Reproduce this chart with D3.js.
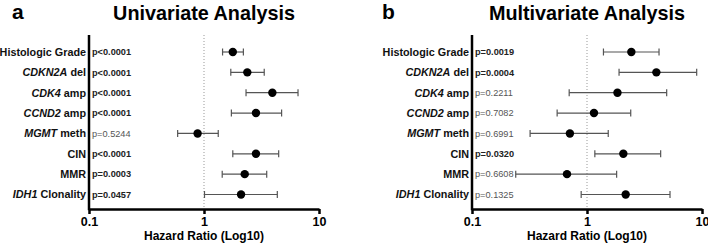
<!DOCTYPE html>
<html><head><meta charset="utf-8">
<script src="https://cdn.jsdelivr.net/npm/d3@7"></script>
<style>
html,body{margin:0;padding:0;background:#fff;}
svg{display:block;font-family:"Liberation Sans",Arial,Helvetica,sans-serif;}
</style></head>
<body>
<script>
// ---------- data ----------
const labelGene   = ["", "CDKN2A", "CDK4", "CCND2", "MGMT", "", "", "IDH1"];
const labelSuffix = ["Histologic Grade", " del", " amp", " amp", " meth", "CIN", "MMR", " Clonality"];

const uniHR   = [1.78, 2.38, 3.93, 2.83, 0.88, 2.83, 2.26, 2.10];
const uniLow  = [1.45, 1.71, 2.32, 1.73, 0.59, 1.78, 1.44, 1.01];
const uniHigh = [2.20, 3.34, 6.57, 4.73, 1.33, 4.46, 3.51, 4.34];
const uniP    = ["p<0.0001", "p<0.0001", "p<0.0001", "p<0.0001", "p=0.5244", "p<0.0001", "p=0.0003", "p=0.0457"];

const mulHR   = [2.43, 4.01, 1.84, 1.15, 0.71, 2.07, 0.67, 2.17];
const mulLow  = [1.39, 1.90, 0.70, 0.55, 0.32, 1.17, 0.24, 0.89];
const mulHigh = [4.23, 8.99, 4.93, 2.40, 1.53, 4.37, 1.81, 5.27];
const mulP    = ["p=0.0019", "p=0.0004", "p=0.2211", "p=0.7082", "p=0.6991", "p=0.0320", "p=0.6608", "p=0.1325"];

const xTicks = [0.1, 1, 10];
const xTickLabels = ["0.1", "1", "10"];

// ---------- drawing ----------
const W = 708, H = 248;
const svg = d3.select("body").append("svg").attr("width", W).attr("height", H);

function panel(cfg) {
  const g = svg.append("g");
  const x = d3.scaleLog().domain([0.1, 10]).range([cfg.x0, cfg.x0 + 230]);
  const idx = d3.range(labelSuffix.length);
  const y = d3.scalePoint().domain(idx).range([52, 194.5]);
  const yTop = 35, yBot = 209;

  // panel letter & title
  g.append("text").attr("x", cfg.letterX).attr("y", 19)
    .attr("font-size", 21).attr("font-weight", "bold").text(cfg.letter);
  g.append("text").attr("x", x(1)).attr("y", 19.5).attr("text-anchor", "middle")
    .attr("font-size", 19.8).attr("font-weight", "bold").text(cfg.title);

  // reference line at HR = 1
  g.append("line").attr("x1", x(1)).attr("x2", x(1)).attr("y1", yTop).attr("y2", yBot)
    .attr("stroke", "#999").attr("stroke-width", 1).attr("stroke-dasharray", "1,2");

  // x axis
  const ax = d3.axisBottom(x).tickValues(xTicks)
    .tickFormat((d, i) => xTickLabels[i]).tickSize(5).tickSizeOuter(0);
  const axg = g.append("g").attr("transform", `translate(0,${yBot})`).call(ax);
  axg.select(".domain").attr("stroke", "#000").attr("stroke-width", 2.5);
  axg.selectAll(".tick line").attr("stroke", "#000").attr("stroke-width", 2.5);
  axg.selectAll(".tick text").attr("font-size", 12.5).attr("font-weight", "bold")
    .attr("fill", "#000").attr("font-family", "Liberation Sans, Arial, sans-serif");

  // y axis line
  g.append("line").attr("x1", cfg.x0).attr("x2", cfg.x0).attr("y1", yTop).attr("y2", yBot + 1.25)
    .attr("stroke", "#000").attr("stroke-width", 2.5);

  // axis title
  g.append("text").attr("x", (x(0.1) + x(10)) / 2).attr("y", 240).attr("text-anchor", "middle")
    .attr("font-size", 12).attr("font-weight", "bold").text("Hazard Ratio (Log10)");

  // row labels
  idx.forEach(i => {
    const t = g.append("text").attr("x", cfg.x0 - 3).attr("y", y(i)).attr("dy", "0.36em")
      .attr("text-anchor", "end").attr("font-size", 10.8).attr("font-weight", "bold").attr("fill", "#111");
    if (labelGene[i]) t.append("tspan").attr("font-style", "italic").text(labelGene[i]);
    t.append("tspan").text(labelSuffix[i]);

    const pv = cfg.p[i];
    const num = parseFloat(pv.slice(2));
    const sig = num < 0.05;
    g.append("text").attr("x", cfg.x0 + 3).attr("y", y(i)).attr("dy", "0.36em")
      .attr("font-size", 9.2).attr("font-weight", sig ? "bold" : "normal")
      .attr("fill", sig ? "#222" : "#555").text(pv);
  });

  // error bars
  const rows = g.selectAll(".row").data(idx).enter().append("g");
  rows.append("line").attr("x1", i => x(cfg.lo[i])).attr("x2", i => x(cfg.hi[i]))
    .attr("y1", i => y(i)).attr("y2", i => y(i)).attr("stroke", "#555").attr("stroke-width", 1.2);
  rows.append("line").attr("x1", i => x(cfg.lo[i])).attr("x2", i => x(cfg.lo[i]))
    .attr("y1", i => y(i) - 3.5).attr("y2", i => y(i) + 3.5).attr("stroke", "#555").attr("stroke-width", 1.2);
  rows.append("line").attr("x1", i => x(cfg.hi[i])).attr("x2", i => x(cfg.hi[i]))
    .attr("y1", i => y(i) - 3.5).attr("y2", i => y(i) + 3.5).attr("stroke", "#555").attr("stroke-width", 1.2);
  rows.append("circle").attr("cx", i => x(cfg.hr[i])).attr("cy", i => y(i)).attr("r", 4.2).attr("fill", "#000");
}

panel({x0: 89, letter: "a", letterX: 12, title: "Univariate Analysis", hr: uniHR, lo: uniLow, hi: uniHigh, p: uniP});
panel({x0: 472, letter: "b", letterX: 382, title: "Multivariate Analysis", hr: mulHR, lo: mulLow, hi: mulHigh, p: mulP});
</script>
</body></html>
